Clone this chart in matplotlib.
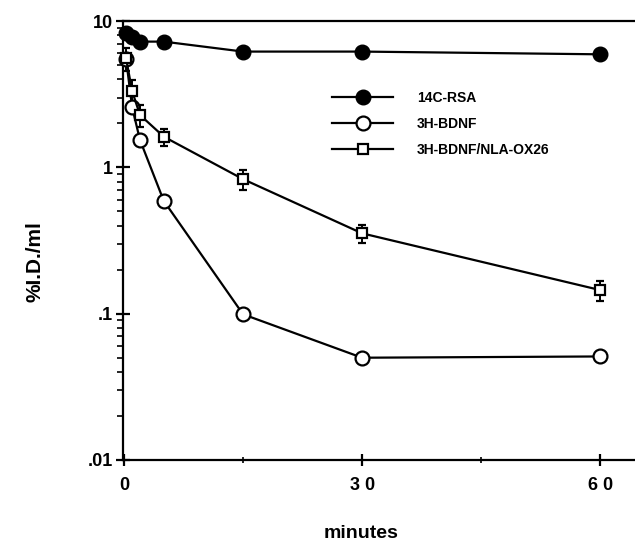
import matplotlib
matplotlib.use('Agg')
import matplotlib.pyplot as plt
from matplotlib.ticker import FixedLocator, LogLocator, NullFormatter, FixedFormatter
from matplotlib.lines import Line2D

time_min = [0.25, 1, 2, 5, 15, 30, 60]
rsa_14c = [8.24, 7.78, 7.23, 7.23, 6.18, 6.18, 5.92]
bdnf_3h = [5.5, 2.6, 1.54, 0.59, 0.099, 0.050, 0.051]
bdnf_nla = [5.56, 3.34, 2.28, 1.62, 0.83, 0.354, 0.145]
bdnf_nla_err = [1.0, 0.6, 0.38, 0.22, 0.13, 0.05, 0.022]
series_labels = ['14C-RSA', '3H-BDNF', '3H-BDNF/NLA-OX26']
x_ticks = [0, 30, 60]
x_tick_labels = ['0', '3 0', '6 0']
y_ticks = [0.01, 0.1, 1, 10]
y_tick_labels = ['.01', '.1', '1', '10']

plt.rcParams['font.family'] = ['Liberation Sans', 'DejaVu Sans']
plt.rcParams['font.weight'] = 'bold'

fig = plt.figure(figsize=(6.35, 5.44), dpi=100)
ax = fig.add_axes([122.5 / 635, 1 - 460 / 544, 1 - 122.5 / 635, (460 - 21) / 544])

lw = 1.6
ax.errorbar(time_min, bdnf_nla, yerr=bdnf_nla_err, fmt='none', ecolor='black',
            elinewidth=1.4, capsize=3.2, capthick=1.6, zorder=2, clip_on=False)
l1, = ax.plot(time_min, rsa_14c, '-o', color='black', lw=lw, ms=10.5,
              mfc='black', mec='black', zorder=4, clip_on=False)
l2, = ax.plot(time_min, bdnf_3h, '-o', color='black', lw=lw, ms=10,
              mfc='white', mec='black', mew=1.6, zorder=3, clip_on=False)
l3, = ax.plot(time_min, bdnf_nla, '-s', color='black', lw=lw, ms=7,
              mfc='white', mec='black', mew=1.6, zorder=3.5, clip_on=False)

ax.set_yscale('log')
ax.set_xlim(-0.2, 64.4)
ax.set_ylim(0.01, 10)

ax.yaxis.set_major_locator(FixedLocator(y_ticks))
ax.yaxis.set_major_formatter(FixedFormatter(y_tick_labels))
ax.yaxis.set_minor_locator(LogLocator(base=10, subs=range(2, 10)))
ax.yaxis.set_minor_formatter(NullFormatter())
ax.xaxis.set_major_locator(FixedLocator(x_ticks))
ax.xaxis.set_major_formatter(FixedFormatter(x_tick_labels))
ax.xaxis.set_minor_locator(FixedLocator([15, 45]))

ax.tick_params(axis='y', which='major', direction='inout', length=10, width=1.6,
               labelsize=13, pad=2)
ax.tick_params(axis='y', which='minor', direction='out', length=4, width=1.2)
ax.tick_params(axis='x', which='major', direction='inout', length=8, width=1.6,
               labelsize=13, pad=8)
ax.tick_params(axis='x', which='minor', direction='inout', length=5, width=1.2)
for lab in ax.get_xticklabels() + ax.get_yticklabels():
    lab.set_fontweight('bold')

ax.spines['right'].set_visible(False)
for s in ['left', 'bottom', 'top']:
    ax.spines[s].set_linewidth(1.6)

fig.text(35 / 635, 1 - 262 / 544, '%I.D./ml', rotation=90, ha='center', va='center',
         fontsize=15, fontweight='bold')
fig.text(361 / 635, 1 - 533 / 544, 'minutes', ha='center', va='center',
         fontsize=14, fontweight='bold')

ax.legend([l1, l2, l3], series_labels, loc='upper left',
          bbox_to_anchor=(332 / 635, 1 - 91 / 544), bbox_transform=fig.transFigure,
          frameon=False, handlelength=4.4, handletextpad=1.7, borderpad=0,
          borderaxespad=0, labelspacing=0.85, prop=dict(size=10, weight='bold'))

fig.savefig('out.png', dpi=100)
